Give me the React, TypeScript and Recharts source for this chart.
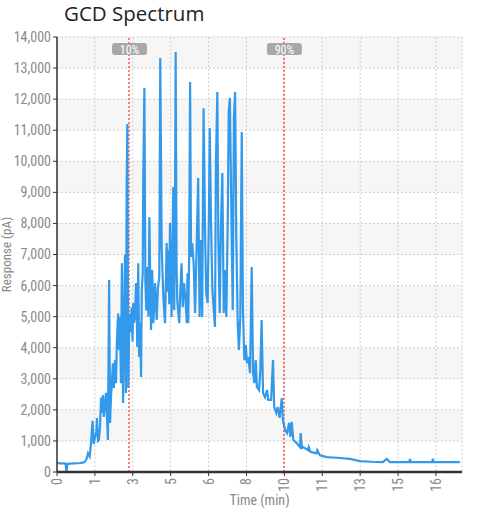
import React from "react";
import {
  LineChart,
  Line,
  XAxis,
  YAxis,
  CartesianGrid,
  ReferenceLine,
} from "recharts";

// retention time (min) and detector response (pA)
const times = [
  0.0, 0.13, 0.3, 0.36, 0.4, 0.44, 0.55, 0.76, 0.97, 1.1, 1.18, 1.25, 1.31, 1.38,
  1.44, 1.5, 1.55, 1.6, 1.66, 1.69, 1.73, 1.77, 1.82, 1.86, 1.9, 1.94, 1.98, 2.03,
  2.07, 2.11, 2.15, 2.2, 2.24, 2.28, 2.32, 2.36, 2.4, 2.45, 2.49, 2.53, 2.58, 2.62,
  2.66, 2.7, 2.74, 2.79, 2.83, 2.87, 2.91, 2.94, 2.97, 3.01, 3.04, 3.08, 3.12, 3.15,
  3.19, 3.22, 3.25, 3.29, 3.34, 3.39, 3.43, 3.47, 3.51, 3.55, 3.58, 3.62, 3.64, 3.69,
  3.73, 3.77, 3.81, 3.86, 3.9, 3.97, 4.02, 4.07, 4.14, 4.21, 4.26, 4.32, 4.36, 4.42,
  4.49, 4.56, 4.63, 4.67, 4.7, 4.74, 4.77, 4.84, 4.91, 4.95, 4.98, 5.01, 5.05, 5.08,
  5.16, 5.21, 5.26, 5.31, 5.36, 5.42, 5.48, 5.51, 5.54, 5.58, 5.62, 5.66, 5.71, 5.77,
  5.83, 5.9, 5.96, 6.02, 6.08, 6.13, 6.16, 6.19, 6.25, 6.3, 6.36, 6.41, 6.45, 6.5,
  6.56, 6.62, 6.67, 6.71, 6.77, 6.81, 6.87, 6.92, 6.98, 7.04, 7.09, 7.15, 7.21, 7.25,
  7.3, 7.36, 7.42, 7.47, 7.52, 7.57, 7.63, 7.68, 7.74, 7.8, 7.85, 7.91, 7.97, 8.02,
  8.08, 8.15, 8.22, 8.28, 8.33, 8.39, 8.44, 8.53, 8.58, 8.64, 8.7, 8.78, 8.87, 8.92,
  9.04, 9.12, 9.17, 9.26, 9.32, 9.4, 9.49, 9.54, 9.63, 9.71, 9.8, 9.85, 9.91, 9.98,
  10.12, 10.26, 10.29, 10.34, 10.4, 10.6, 10.63, 10.7, 10.96, 10.99, 11.1, 11.39,
  11.95, 12.37, 12.79, 13.3, 13.76, 13.92, 14.06, 14.88, 14.9, 14.94, 15.85, 15.87,
  15.9, 17.01,
];

const response = [
  290, 280, 280, 270, 20, 260, 270, 280, 290, 300, 330, 420, 600, 500,
  970, 1650, 900, 1100, 1300, 1740, 1000, 1030, 1500, 2400, 1900, 2480, 1770, 2200,
  2550, 1800, 1030, 6180, 1580, 2400, 2960, 3500, 2700, 3600, 2860, 4200, 5100, 3930,
  5000, 2860, 6720, 2220, 4500, 7000, 2540, 9070, 11200, 2700, 4300, 5100, 4500, 5300,
  4200, 5440, 4800, 5000, 6080, 4020, 6720, 3700, 4800, 3060, 5860, 6400, 9300, 12360,
  6180, 5200, 6600, 5000, 8200, 4570, 6500, 4790, 6080, 4890, 5900, 6280, 13320, 7240,
  5630, 4790, 7370, 5800, 7140, 5400, 8010, 4990, 9170, 5210, 8000, 13520, 6500, 5500,
  4790, 5900, 6720, 5300, 6080, 5600, 4790, 6400, 4790, 7000, 12550, 6920, 7370, 6720,
  5120, 7370, 9460, 4990, 7470, 4990, 8500, 11710, 7790, 5760, 5440, 8000, 11070, 8210,
  5860, 5210, 4670, 9940, 12230, 7560, 5120, 7880, 9620, 5120, 6500, 4990, 8110, 11590,
  12040, 8430, 5210, 11420, 12230, 7560, 4790, 3930, 4990, 10940, 5310, 3600, 4090, 3500,
  3700, 3180, 6600, 3180, 2860, 3600, 2740, 2640, 3180, 4890, 2540, 2410, 2640, 2320,
  2320, 3600, 2090, 1900, 2090, 1740, 2380, 1670, 1350, 1250, 1580, 1130, 1610, 1030,
  930, 800, 1250, 780, 800, 700, 800, 650, 600, 700, 540, 480,
  450, 420, 350, 330, 320, 420, 320, 320, 420, 320, 320, 430,
  320, 320,
];

const xTicks = [0, 1.6, 3.2, 4.8, 6.4, 8, 9.6, 11.2, 12.8, 14.4, 16];
const xTickLabels = ["0", "1", "3", "5", "6", "8", "10", "11", "13", "15", "16"];
const yTicks = [0, 1000, 2000, 3000, 4000, 5000, 6000, 7000, 8000, 9000, 10000, 11000, 12000, 13000, 14000];
const markers = [
  { t: 3.04, label: "10%" },
  { t: 9.58, label: "90%" },
];

const data = times.map((t, i) => ({ t, v: response[i] }));

const tickFont = "'Liberation Sans Narrow', 'Roboto Condensed', Roboto, sans-serif";

const XTick = (props: any) => {
  const { x, y, payload } = props;
  const idx = xTicks.indexOf(payload.value);
  return (
    <text
      x={x}
      y={y}
      transform={`rotate(-90 ${x} ${y})`}
      textAnchor="end"
      dominantBaseline="central"
      fill="#8a8a8a"
      fontSize={14}
      fontFamily={tickFont}
    >
      {xTickLabels[idx]}
    </text>
  );
};

const MarkerLabel = ({ viewBox, text }: any) => {
  const cx = viewBox.x;
  const top = viewBox.y;
  return (
    <g>
      <rect x={cx - 17} y={top + 6} width={35} height={12} rx={3} fill="#a8a8a8" />
      <text
        x={cx + 0.5}
        y={top + 12.5}
        textAnchor="middle"
        dominantBaseline="central"
        fill="#fff"
        fontSize={12}
        fontFamily={tickFont}
      >
        {text}
      </text>
    </g>
  );
};

export default function App() {
  return (
    <div style={{ position: "absolute", left: 0, top: 0, width: 500, height: 517, background: "#fff" }}>
      <svg width={500} height={30} style={{ position: "absolute", left: 0, top: 0 }}>
        <text x={64} y={21} fontSize={20.5} fontFamily="'Open Sans', sans-serif" fill="#222">
          GCD Spectrum
        </text>
      </svg>

      <LineChart
        width={500}
        height={517}
        data={data}
        margin={{ top: 37, right: 38, left: 0, bottom: 0 }}
      >
        <CartesianGrid
          stroke="#cfcfcf"
          strokeDasharray="2 2"
          horizontalFill={["#f6f6f6", "#ffffff"]}
        />

        <XAxis
          dataKey="t"
          type="number"
          domain={[0, 17.1]}
          ticks={xTicks}
          height={45}
          interval={0}
          tick={<XTick />}
          tickSize={4}
          tickMargin={2}
          axisLine={{ stroke: "#333", strokeWidth: 2.5 }}
          tickLine={{ stroke: "#333" }}
          label={{
            value: "Time (min)",
            position: "insideBottom",
            offset: 12,
            fill: "#8a8a8a",
            fontSize: 14,
            fontFamily: tickFont,
          }}
        />

        <YAxis
          domain={[0, 14000]}
          ticks={yTicks}
          width={57}
          interval={0}
          tickSize={4}
          tickMargin={2}
          tickFormatter={(v: number) => v.toLocaleString("en-US")}
          tick={{ fill: "#8a8a8a", fontSize: 14, fontFamily: tickFont }}
          axisLine={{ stroke: "#333", strokeWidth: 1.5 }}
          tickLine={{ stroke: "#333" }}
          label={{
            value: "Response (pA)",
            angle: -90,
            position: "insideLeft",
            offset: 6,
            fill: "#8a8a8a",
            fontSize: 13,
            fontFamily: tickFont,
            style: { textAnchor: "middle" },
          }}
        />

        {markers.map((m) => (
          <ReferenceLine
            key={m.label}
            x={m.t}
            stroke="#ff2a2a"
            strokeDasharray="2 2"
            strokeWidth={1.2}
            label={(p: any) => <MarkerLabel viewBox={p.viewBox} text={m.label} />}
          />
        ))}

        <Line
          type="linear"
          dataKey="v"
          stroke="#3399ea"
          strokeWidth={2.2}
          dot={false}
          isAnimationActive={false}
        />
      </LineChart>
    </div>
  );
}
